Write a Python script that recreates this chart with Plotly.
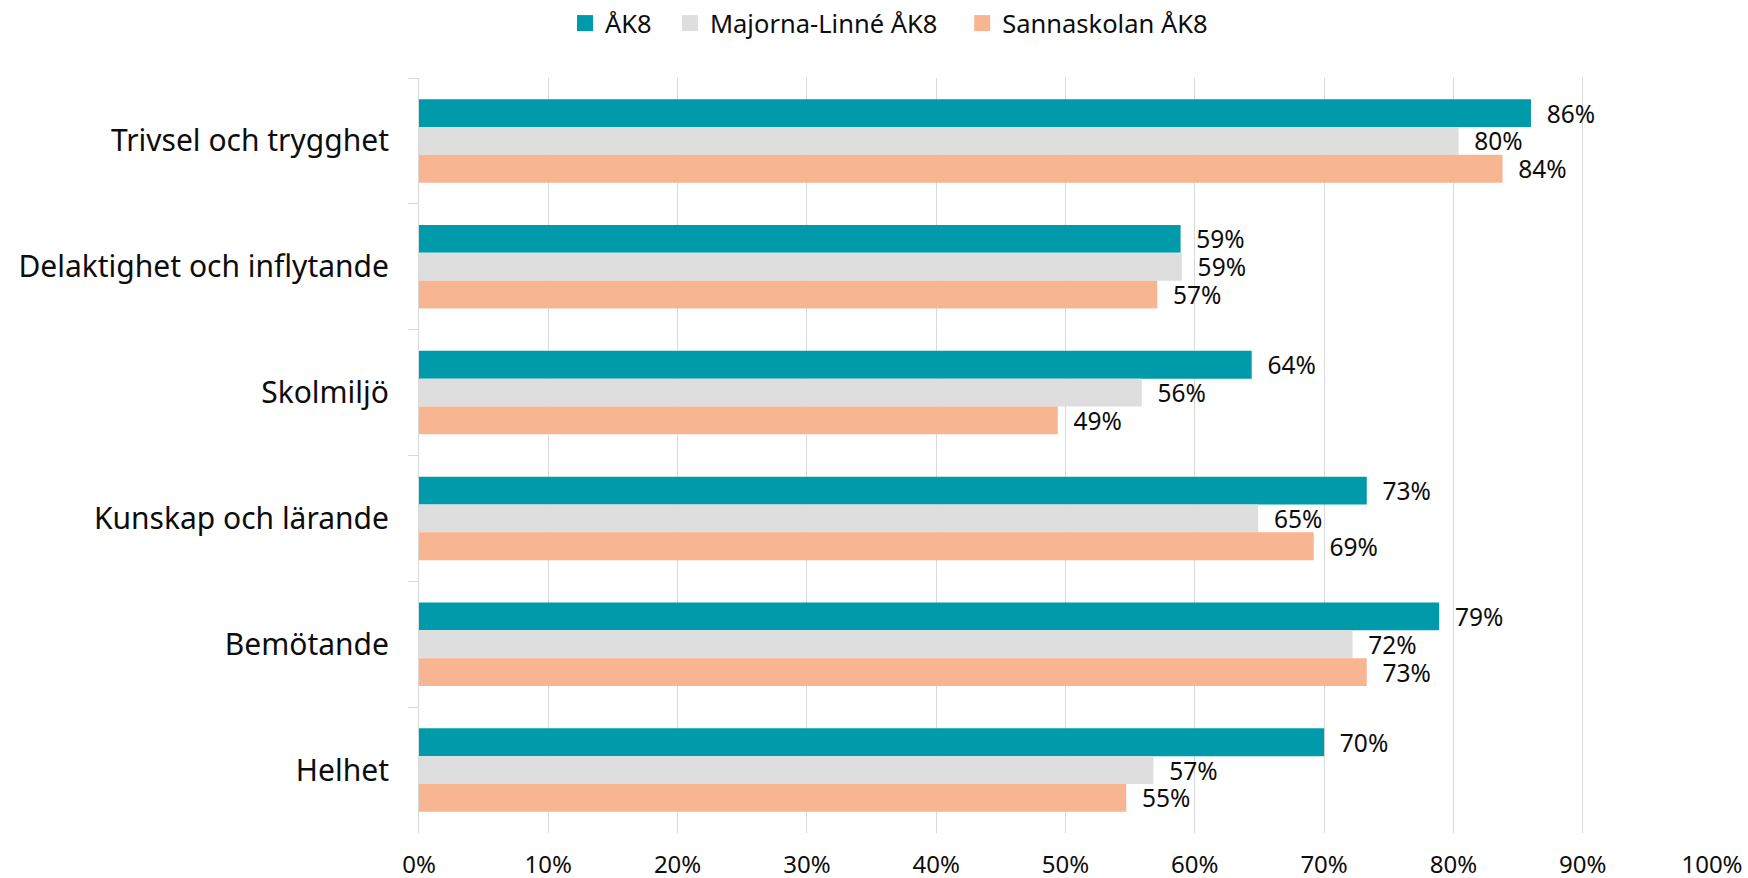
import plotly.graph_objects as go

categories = ["Trivsel och trygghet", "Delaktighet och inflytande", "Skolmiljö",
              "Kunskap och lärande", "Bemötande", "Helhet"]
ak8 = [0.860, 0.589, 0.644, 0.733, 0.789, 0.700]
majorna = [0.804, 0.590, 0.559, 0.649, 0.722, 0.568]
sanna = [0.838, 0.571, 0.494, 0.692, 0.733, 0.547]
series_names = ["ÅK8", "Majorna-Linné ÅK8", "Sannaskolan ÅK8"]
colors = ["#009BAA", "#DEDEDE", "#F8B591"]
x_ticks = [0, 0.1, 0.2, 0.3, 0.4, 0.5, 0.6, 0.7, 0.8, 0.9, 1.0]
x_tick_labels = ["0%", "10%", "20%", "30%", "40%", "50%", "60%", "70%", "80%", "90%", "100%"]

FONT = "Noto Sans"
TXT = "#0d0d0d"
NB = "\u00a0"
legend_pad = [NB * 2, NB * 3, ""]

fig = go.Figure()
for name, vals, col in zip(series_names, [ak8, majorna, sanna], colors):
    fig.add_trace(go.Bar(
        y=categories, x=vals, name=name, orientation="h",
        marker=dict(color=col, line=dict(width=0)),
        texttemplate="  %{x:.0%}", textposition="outside",
        textfont=dict(family=FONT, size=24.5, color=TXT),
        constraintext="none", cliponaxis=False, showlegend=False,
    ))
# legend entries (square swatches)
for name, col, pad in zip(series_names, colors, legend_pad):
    fig.add_trace(go.Scatter(
        x=[None], y=[None], mode="markers", name=name + pad,
        marker=dict(symbol="square", size=16, color=col), showlegend=True,
    ))

fig.update_layout(
    width=1748, height=878,
    margin=dict(l=419, r=36, t=78, b=45),
    paper_bgcolor="white", plot_bgcolor="white",
    barmode="group", bargap=0.337, bargroupgap=0,
    font=dict(family=FONT, color=TXT),
    legend=dict(orientation="h", xref="container", yref="container",
                x=565 / 1748, y=1 - 23.5 / 878, xanchor="left", yanchor="middle",
                font=dict(family=FONT, size=25.5, color=TXT),
                itemwidth=30, bgcolor="rgba(0,0,0,0)"),
    xaxis=dict(range=[0, 1.0], tickvals=x_ticks, ticktext=x_tick_labels,
               showgrid=True, gridcolor="#D9D9D9", gridwidth=1,
               zeroline=False, showline=False, ticks="",
               ticklabelstandoff=15, automargin=False,
               tickfont=dict(family=FONT, size=24, color=TXT)),
    yaxis=dict(autorange="reversed", showline=True, linecolor="#D9D9D9", linewidth=1,
               ticks="outside", tickson="boundaries", ticklen=10, tickcolor="#D9D9D9",
               showgrid=False, ticklabelstandoff=23, automargin=False,
               tickfont=dict(family=FONT, size=30, color=TXT)),
)

fig.write_html("out.html", config={"displayModeBar": False},
               post_script="document.body.style.margin='0';")
